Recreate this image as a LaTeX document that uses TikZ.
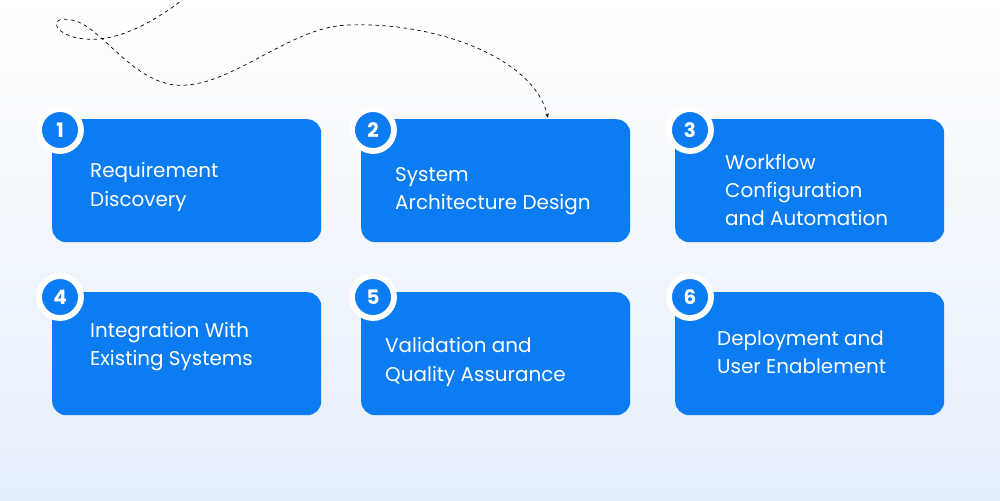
\documentclass[tikz,border=0pt]{standalone}
\usepackage{fontspec}
\setmainfont{Poppins}
\usetikzlibrary{arrows.meta}
\definecolor{stepblue}{HTML}{0B7CF2}
\definecolor{bgtop}{HTML}{FFFFFF}
\definecolor{bgbot}{HTML}{E4EEFB}
\tikzset{
  stepbox/.style={fill=stepblue,rounded corners=12pt,minimum width=269*0.03cm,minimum height=123*0.03cm,inner sep=0pt},
  num/.style={circle,fill=stepblue,draw=white,line width=5pt,minimum size=42*0.03cm,inner sep=0pt,text=white,font=\fontsize{17}{17}\selectfont\bfseries},
  lbl/.style={text=white,align=left,anchor=west,inner sep=0pt,font=\fontsize{17}{24}\selectfont}
}
\begin{document}
\begin{tikzpicture}[x=0.03cm,y=-0.03cm]
\shade[top color=bgtop,bottom color=bgbot] (0,0) rectangle (1000,500);
\useasboundingbox (0,0) rectangle (1000,500);

% steps
\node[stepbox,anchor=north west] (s1) at (52,119) {};
\node[stepbox,anchor=north west] (s2) at (361,119) {};
\node[stepbox,anchor=north west] (s3) at (675,119) {};
\node[stepbox,anchor=north west] (s4) at (52,292) {};
\node[stepbox,anchor=north west] (s5) at (361,292) {};
\node[stepbox,anchor=north west] (s6) at (675,292) {};

\node[num] (n1) at (60,130) {1};
\node[num] (n2) at (373,130) {2};
\node[num] (n3) at (690,130) {3};
\node[num] (n4) at (60,297) {4};
\node[num] (n5) at (373,297) {5};
\node[num] (n6) at (690,297) {6};

\node[lbl] (t1) at (90,187) {Requirement\\Discovery};
\node[lbl] (t2) at (395,191) {System\\Architecture Design};
\node[lbl] (t3) at (725,190) {Workflow\\Configuration\\and Automation};
\node[lbl] (t4) at (90,347) {Integration With\\Existing Systems};
\node[lbl] (t5) at (385,362) {Validation and\\Quality Assurance};
\node[lbl] (t6) at (717,352) {Deployment and\\User Enablement};

% dashed path
\coordinate (c0) at (185,-2);
\coordinate (c1) at (548,118);
\draw[dashed,line width=0.6pt,-{Stealth[length=4pt]}] (c0)
  .. controls (150,25) and (115,42) .. (85,39)
  .. controls (55,37) and (45,15) .. (72,20)
  .. controls (100,25) and (130,80) .. (175,85)
  .. controls (230,90) and (290,25) .. (350,25)
  .. controls (440,22) and (535,60) .. (c1);
\end{tikzpicture}
\end{document}
